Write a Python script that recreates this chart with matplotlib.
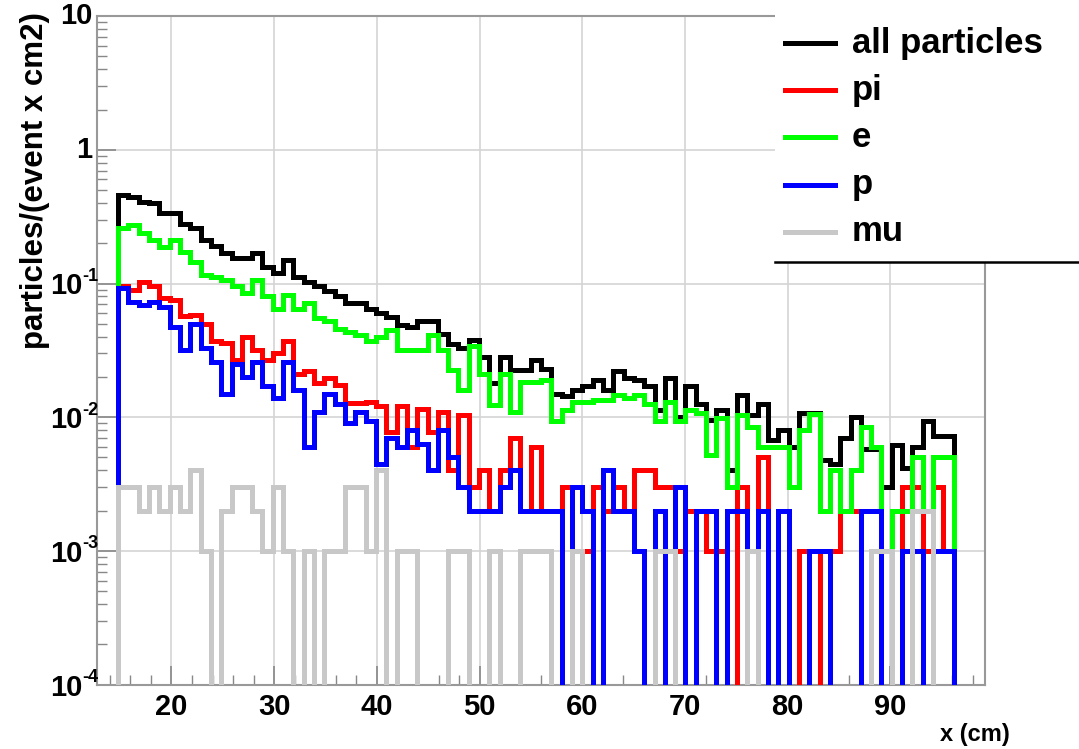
import numpy as np
import matplotlib

matplotlib.use("Agg")
import matplotlib.pyplot as plt
from matplotlib.lines import Line2D
from matplotlib.patches import Rectangle
from matplotlib.ticker import FixedLocator, MultipleLocator, LogLocator, NullFormatter

plt.rcParams["font.family"] = ["Liberation Sans", "DejaVu Sans"]
plt.rcParams["font.weight"] = "bold"

# histogram binning (cm)
x_lo, x_hi, n_bins = 14.8, 96.15, 81

# particles/(event x cm2) per bin (0 = empty bin)
all_particles = [
    0.46, 0.44, 0.41, 0.40, 0.335, 0.335, 0.28, 0.26, 0.21, 0.19,
    0.17, 0.155, 0.155, 0.17, 0.134, 0.12, 0.15, 0.112, 0.103, 0.095,
    0.088, 0.080, 0.071, 0.071, 0.064, 0.060, 0.0565, 0.049, 0.0475, 0.052,
    0.052, 0.042, 0.035, 0.033, 0.038, 0.028, 0.018, 0.028, 0.0225, 0.0225,
    0.027, 0.023, 0.015, 0.0145, 0.016, 0.017, 0.019, 0.016, 0.022, 0.0195,
    0.019, 0.017, 0.0113, 0.0195, 0.0101, 0.017, 0.0125, 0.0095, 0.0113, 0.004,
    0.0147, 0.0103, 0.0125, 0.0068, 0.008, 0.006, 0.0107, 0.0107, 0.0048, 0.0045,
    0.007, 0.010, 0.0058, 0.0058, 0.003, 0.0062, 0.0042, 0.006, 0.0093, 0.0072,
    0.0072,
]
pi = [
    0.095, 0.089, 0.103, 0.095, 0.078, 0.075, 0.057, 0.058, 0.050, 0.037,
    0.036, 0.027, 0.040, 0.032, 0.027, 0.030, 0.037, 0.021, 0.022, 0.018,
    0.0197, 0.0175, 0.0127, 0.0127, 0.013, 0.0122, 0.0078, 0.0122, 0.006, 0.0115,
    0.0078, 0.011, 0.004, 0.0103, 0.003, 0.004, 0.002, 0.004, 0.007, 0.002,
    0.006, 0.002, 0.002, 0.003, 0.001, 0.001, 0.003, 0.002, 0.003, 0.002,
    0.004, 0.004, 0.003, 0.003, 0.001, 0.002, 0.002, 0.001, 0.001, 0.0,
    0.003, 0.001, 0.005, 0.0, 0.002, 0.0, 0.001, 0.001, 0.0, 0.001,
    0.002, 0.002, 0.0, 0.001, 0.001, 0.0, 0.003, 0.003, 0.001, 0.003,
    0.001,
]
e = [
    0.26, 0.274, 0.237, 0.211, 0.188, 0.211, 0.173, 0.146, 0.116, 0.112,
    0.106, 0.095, 0.085, 0.106, 0.080, 0.065, 0.082, 0.065, 0.071, 0.055,
    0.052, 0.046, 0.0436, 0.041, 0.037, 0.040, 0.045, 0.032, 0.032, 0.032,
    0.041, 0.032, 0.0225, 0.016, 0.034, 0.021, 0.0123, 0.021, 0.011, 0.0184,
    0.0184, 0.019, 0.0094, 0.0114, 0.013, 0.013, 0.0135, 0.0135, 0.0146, 0.014,
    0.0146, 0.0125, 0.0094, 0.013, 0.0094, 0.0114, 0.0107, 0.0052, 0.0098, 0.003,
    0.0104, 0.0084, 0.006, 0.006, 0.006, 0.003, 0.008, 0.0106, 0.002, 0.004,
    0.002, 0.004, 0.0085, 0.006, 0.0, 0.002, 0.002, 0.005, 0.002, 0.005,
    0.005,
]
p = [
    0.092, 0.073, 0.069, 0.073, 0.067, 0.0475, 0.032, 0.050, 0.033, 0.026,
    0.015, 0.025, 0.020, 0.026, 0.017, 0.014, 0.026, 0.016, 0.006, 0.011,
    0.015, 0.0125, 0.009, 0.011, 0.0093, 0.0045, 0.007, 0.006, 0.008, 0.0063,
    0.004, 0.008, 0.005, 0.003, 0.002, 0.002, 0.002, 0.003, 0.004, 0.002,
    0.002, 0.002, 0.002, 0.0, 0.003, 0.002, 0.0, 0.004, 0.002, 0.002,
    0.001, 0.0, 0.002, 0.0, 0.003, 0.0, 0.002, 0.002, 0.0, 0.002,
    0.002, 0.001, 0.002, 0.0, 0.002, 0.0, 0.0, 0.001, 0.001, 0.0,
    0.0, 0.0, 0.002, 0.002, 0.0, 0.0, 0.001, 0.001, 0.0, 0.001,
    0.001,
]
mu = [
    0.003, 0.003, 0.002, 0.003, 0.002, 0.003, 0.002, 0.004, 0.001, 0.0,
    0.002, 0.003, 0.003, 0.002, 0.001, 0.003, 0.001, 0.0, 0.001, 0.0,
    0.001, 0.001, 0.003, 0.003, 0.001, 0.004, 0.0, 0.001, 0.001, 0.0,
    0.0, 0.0, 0.001, 0.001, 0.0, 0.0, 0.001, 0.0, 0.0, 0.001,
    0.001, 0.001, 0.0, 0.0, 0.001, 0.0, 0.0, 0.0, 0.0, 0.0,
    0.0, 0.0, 0.001, 0.001, 0.0, 0.0, 0.0, 0.0, 0.0, 0.0,
    0.0, 0.001, 0.0, 0.0, 0.0, 0.0, 0.0, 0.0, 0.0, 0.0,
    0.0, 0.0, 0.0, 0.001, 0.001, 0.0, 0.0, 0.002, 0.002, 0.0,
    0.0,
]

labels = ["all particles", "pi", "e", "p", "mu"]
colors = ["black", "#ff0000", "#00ff00", "#0000ff", "#c8c8c8"]
series = [all_particles, pi, e, p, mu]

y_ticks = [1e-4, 1e-3, 1e-2, 1e-1, 1, 10]
y_exponents = ["-4", "-3", "-2", "-1", None, None]
y_plain = [None, None, None, None, "1", "10"]
x_ticks = [20, 30, 40, 50, 60, 70, 80, 90]

W, H = 1079, 749
fig = plt.figure(figsize=(W / 100, H / 100), dpi=100)
ax = fig.add_axes([97 / W, 1 - 684.6 / H, (985 - 97) / W, (684.6 - 16.1) / H])

edges = np.linspace(x_lo, x_hi, n_bins + 1)
floor = 1e-6
for vals, color in zip(series, colors):
    v = np.asarray(vals, dtype=float)
    v = np.where(v > 0, v, floor)
    ax.stairs(v, edges, baseline=floor, color=color, lw=3.6, fill=False, zorder=3)

ax.set_yscale("log")
ax.set_ylim(1e-4, 10)
ax.set_xlim(12.75, 99.2)

ax.yaxis.set_major_locator(FixedLocator(y_ticks))
ax.yaxis.set_major_formatter(NullFormatter())
ax.yaxis.set_minor_locator(LogLocator(base=10, subs=np.arange(2, 10)))
ax.yaxis.set_minor_formatter(NullFormatter())
ax.xaxis.set_major_locator(FixedLocator(x_ticks))
ax.xaxis.set_minor_locator(MultipleLocator(2))

ax.tick_params(which="both", direction="in", top=False, right=False,
               colors="#888888", labelcolor="black", labelsize=21)
ax.tick_params(which="major", length=14, width=1.2)
ax.tick_params(which="minor", length=7, width=1.0)
ax.tick_params(axis="x", pad=6)

# ROOT-like y tick labels: "10" with a small raised exponent
for val, ex, plain in zip(y_ticks, y_exponents, y_plain):
    if plain is not None:
        ax.annotate(plain, xy=(0, val), xycoords=("axes fraction", "data"),
                    xytext=(-5, 0), textcoords="offset pixels",
                    ha="right", va="center", fontsize=21, fontweight="bold")
    else:
        ax.annotate("10", xy=(0, val), xycoords=("axes fraction", "data"),
                    xytext=(-15, -3), textcoords="offset pixels",
                    ha="right", va="center", fontsize=21, fontweight="bold")
        ax.annotate(ex, xy=(0, val), xycoords=("axes fraction", "data"),
                    xytext=(-15, 7), textcoords="offset pixels",
                    ha="left", va="center", fontsize=13, fontweight="bold")

ax.grid(True, which="major", color="#d4d4d4", lw=1.2)
ax.set_axisbelow(True)
for side in ax.spines:
    ax.spines[side].set_color("#999999")
    ax.spines[side].set_linewidth(1.5)

fig.text(35 / W, 1 - 12 / H, "particles/(event x cm2)", rotation=90,
         ha="center", va="top", fontsize=22.5, fontweight="bold")
fig.text(1010 / W, 1 - 735 / H, "x (cm)", ha="right", va="center",
         fontsize=17, fontweight="bold")

# legend box (ROOT style, only bottom border visible)
fig.add_artist(Rectangle((775 / W, 1 - 262 / H), (W - 775) / W, (262 - 14) / H,
                         transform=fig.transFigure, facecolor="white",
                         edgecolor="none", zorder=5))
fig.add_artist(Line2D([775 / W, 1.0], [1 - 262 / H] * 2, transform=fig.transFigure,
                      color="black", lw=1.8, zorder=6))
for i, (lab, col) in enumerate(zip(labels, colors)):
    yy = 1 - (43 + 47.2 * i) / H
    fig.add_artist(Line2D([785 / W, 835 / W], [yy, yy], transform=fig.transFigure,
                          color=col, lw=3.6, zorder=6))
    fig.text(852 / W, yy, lab, ha="left", va="center", fontsize=25,
             fontweight="bold", zorder=7)

fig.savefig("out.png", dpi=100)
